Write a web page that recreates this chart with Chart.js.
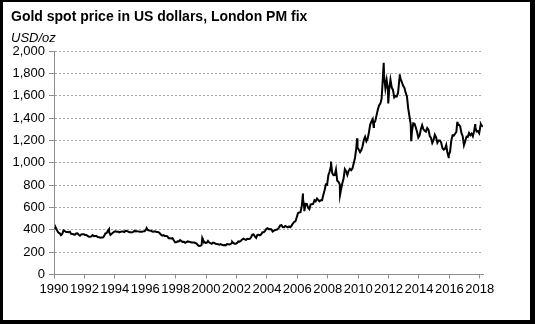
<!DOCTYPE html>
<html>
<head>
<meta charset="utf-8">
<script src="https://cdn.jsdelivr.net/npm/chart.js@4/dist/chart.umd.min.js"></script>
<style>
  html, body { margin: 0; padding: 0; background: #fff; }
  #wrap { position: relative; width: 535px; height: 324px; }
  #frame { position: absolute; left: 0; top: 0; width: 535px; height: 324px; box-sizing: border-box;
           border-style: solid; border-color: #000; border-width: 2px 5px 4px 3px; pointer-events: none; }
  canvas { position: absolute; left: 0; top: 0; }
</style>
</head>
<body>
<div id="wrap">
  <canvas id="c" width="535" height="324"></canvas>
  <div id="frame"></div>
</div>
<script>
// Chart text
const chartTitle = 'Gold spot price in US dollars, London PM fix';
const unitLabel = 'USD/oz';

// Axis ticks
const yearTicks = [1990, 1992, 1994, 1996, 1998, 2000, 2002, 2004, 2006, 2008, 2010, 2012, 2014, 2016, 2018];
const priceTicks = [0, 200, 400, 600, 800, 1000, 1200, 1400, 1600, 1800, 2000];

// Monthly London PM fix levels (USD/oz), January 1990 onwards
const startYear = 1990;
const monthlyPrices = [
  // 1990
  410, 417, 393, 374, 369, 352, 362, 395, 389, 380, 381, 378,
  // 1991
  383, 364, 363, 358, 357, 367, 368, 356, 348, 359, 360, 361,
  // 1992
  354, 354, 345, 338, 337, 341, 353, 343, 345, 344, 335, 334,
  // 1993
  329, 330, 330, 342, 367, 372, 392, 379, 355, 365, 374, 383,
  // 1994
  387, 382, 384, 377, 381, 385, 385, 380, 391, 389, 384, 379,
  // 1995
  379, 376, 382, 391, 385, 387, 386, 383, 383, 383, 386, 387,
  // 1996
  400, 405, 396, 393, 392, 385, 383, 387, 383, 381, 378, 369,
  // 1997
  355, 347, 352, 344, 344, 341, 324, 324, 323, 325, 306, 289,
  // 1998
  289, 297, 296, 308, 299, 292, 293, 284, 289, 296, 294, 291,
  // 1999
  287, 287, 286, 282, 277, 262, 256, 257, 265, 311, 293, 283,
  // 2000
  284, 300, 286, 280, 275, 285, 282, 274, 273, 270, 266, 272,
  // 2001
  266, 262, 263, 261, 272, 270, 268, 273, 283, 283, 276, 276,
  // 2002
  282, 296, 294, 302, 314, 321, 314, 310, 319, 317, 319, 333,
  // 2003
  357, 359, 340, 328, 355, 356, 351, 360, 379, 379, 389, 407,
  // 2004
  414, 405, 406, 404, 384, 392, 398, 400, 406, 420, 439, 442,
  // 2005
  424, 423, 434, 429, 422, 430, 424, 438, 456, 470, 476, 510,
  // 2006
  549, 555, 557, 610, 676, 596, 633, 632, 598, 585, 627, 629,
  // 2007
  631, 665, 655, 679, 667, 655, 665, 665, 712, 754, 806, 803,
  // 2008
  889, 922, 968, 909, 888, 889, 939, 839, 829, 806, 760, 816,
  // 2009
  858, 943, 924, 890, 928, 946, 934, 949, 996, 1043, 1127, 1134,
  // 2010
  1118, 1095, 1114, 1148, 1205, 1233, 1193, 1215, 1271, 1342, 1370, 1391,
  // 2011
  1356, 1372, 1424, 1474, 1512, 1529, 1572, 1756, 1772, 1665, 1739, 1652,
  // 2012
  1656, 1743, 1674, 1650, 1585, 1596, 1594, 1626, 1744, 1747, 1721, 1688,
  // 2013
  1671, 1627, 1593, 1487, 1414, 1343, 1286, 1352, 1348, 1316, 1275, 1225,
  // 2014
  1244, 1300, 1336, 1299, 1287, 1279, 1311, 1296, 1239, 1222, 1176, 1201,
  // 2015
  1251, 1227, 1179, 1199, 1199, 1182, 1131, 1117, 1125, 1159, 1086, 1068,
  // 2016
  1097, 1200, 1246, 1243, 1260, 1276, 1337, 1341, 1326, 1267, 1238, 1157,
  // 2017
  1192, 1234, 1231, 1266, 1246, 1260, 1236, 1283, 1315, 1280, 1283, 1265,
  // 2018
  1331, 1331, 1325
];

// Intra-month highs and lows (decimal year, USD/oz)
const extremeDates  = [1990.10, 1993.62, 1996.09, 1999.75, 2001.72, 2006.37, 2006.46, 2008.21, 2008.81, 2009.93, 2011.02, 2011.68, 2011.98, 2012.73, 2013.49, 2015.95, 2016.52, 2017.70, 2018.07];
const extremePrices = [416,     406,     415,     325,     293,     725,     567,     1011,    712,     1218,    1320,    1895,    1531,    1791,    1192,    1050,    1366,    1346,    1345];

// Combine monthly levels and extremes into one time-ordered series
const series = monthlyPrices.map((p, i) => ({ x: startYear + (i + 0.5) / 12, y: p }));
extremeDates.forEach((d, i) => series.push({ x: d, y: extremePrices[i] }));
series.sort((a, b) => a.x - b.x);

const FONT = '"Liberation Sans", Arial, sans-serif';
const AXIS_GREY = '#8c8c8c';

// Title and unit label at the top-left of the canvas
const headerText = {
  id: 'headerText',
  afterDraw(chart) {
    const ctx = chart.ctx;
    ctx.save();
    ctx.fillStyle = '#000';
    ctx.textAlign = 'left';
    ctx.textBaseline = 'alphabetic';
    ctx.font = 'bold 14px ' + FONT;
    ctx.fillText(chartTitle, 11, 20.5);
    ctx.font = 'italic 13px ' + FONT;
    ctx.fillText(unitLabel, 11, 41.5);
    ctx.restore();
  }
};

new Chart(document.getElementById('c'), {
  type: 'line',
  data: {
    datasets: [{
      data: series,
      borderColor: '#000',
      borderWidth: 2,
      pointRadius: 0,
      tension: 0,
      fill: false
    }]
  },
  options: {
    responsive: false,
    animation: false,
    layout: { padding: { left: 0, right: 52, top: 51, bottom: 25.5 } },
    plugins: { legend: { display: false }, tooltip: { enabled: false }, title: { display: false } },
    scales: {
      x: {
        type: 'linear',
        min: 1990,
        max: 2018.21,
        afterFit(s) { s.height = 24; },
        afterBuildTicks(s) { s.ticks = yearTicks.map(v => ({ value: v })); },
        ticks: {
          color: '#000',
          font: { family: FONT, size: 13 },
          padding: 3,
          maxRotation: 0,
          autoSkip: false,
          callback: v => String(v)
        },
        grid: { drawOnChartArea: false, drawTicks: true, tickLength: 4, tickColor: AXIS_GREY, tickWidth: 1 },
        border: { display: true, color: AXIS_GREY, width: 1 }
      },
      y: {
        min: 0,
        max: 2000,
        afterFit(s) { s.width = 54; },
        afterBuildTicks(s) { s.ticks = priceTicks.map(v => ({ value: v })); },
        ticks: {
          color: '#000',
          font: { family: FONT, size: 13 },
          padding: 4,
          callback: v => v.toLocaleString('en-US')
        },
        grid: { color: '#a6a6a6', lineWidth: 1, drawTicks: true, tickLength: 5, tickColor: AXIS_GREY, tickWidth: 1 },
        border: { display: true, color: AXIS_GREY, width: 1, dash: [2, 2] }
      }
    }
  },
  plugins: [headerText]
});
</script>
</body>
</html>
